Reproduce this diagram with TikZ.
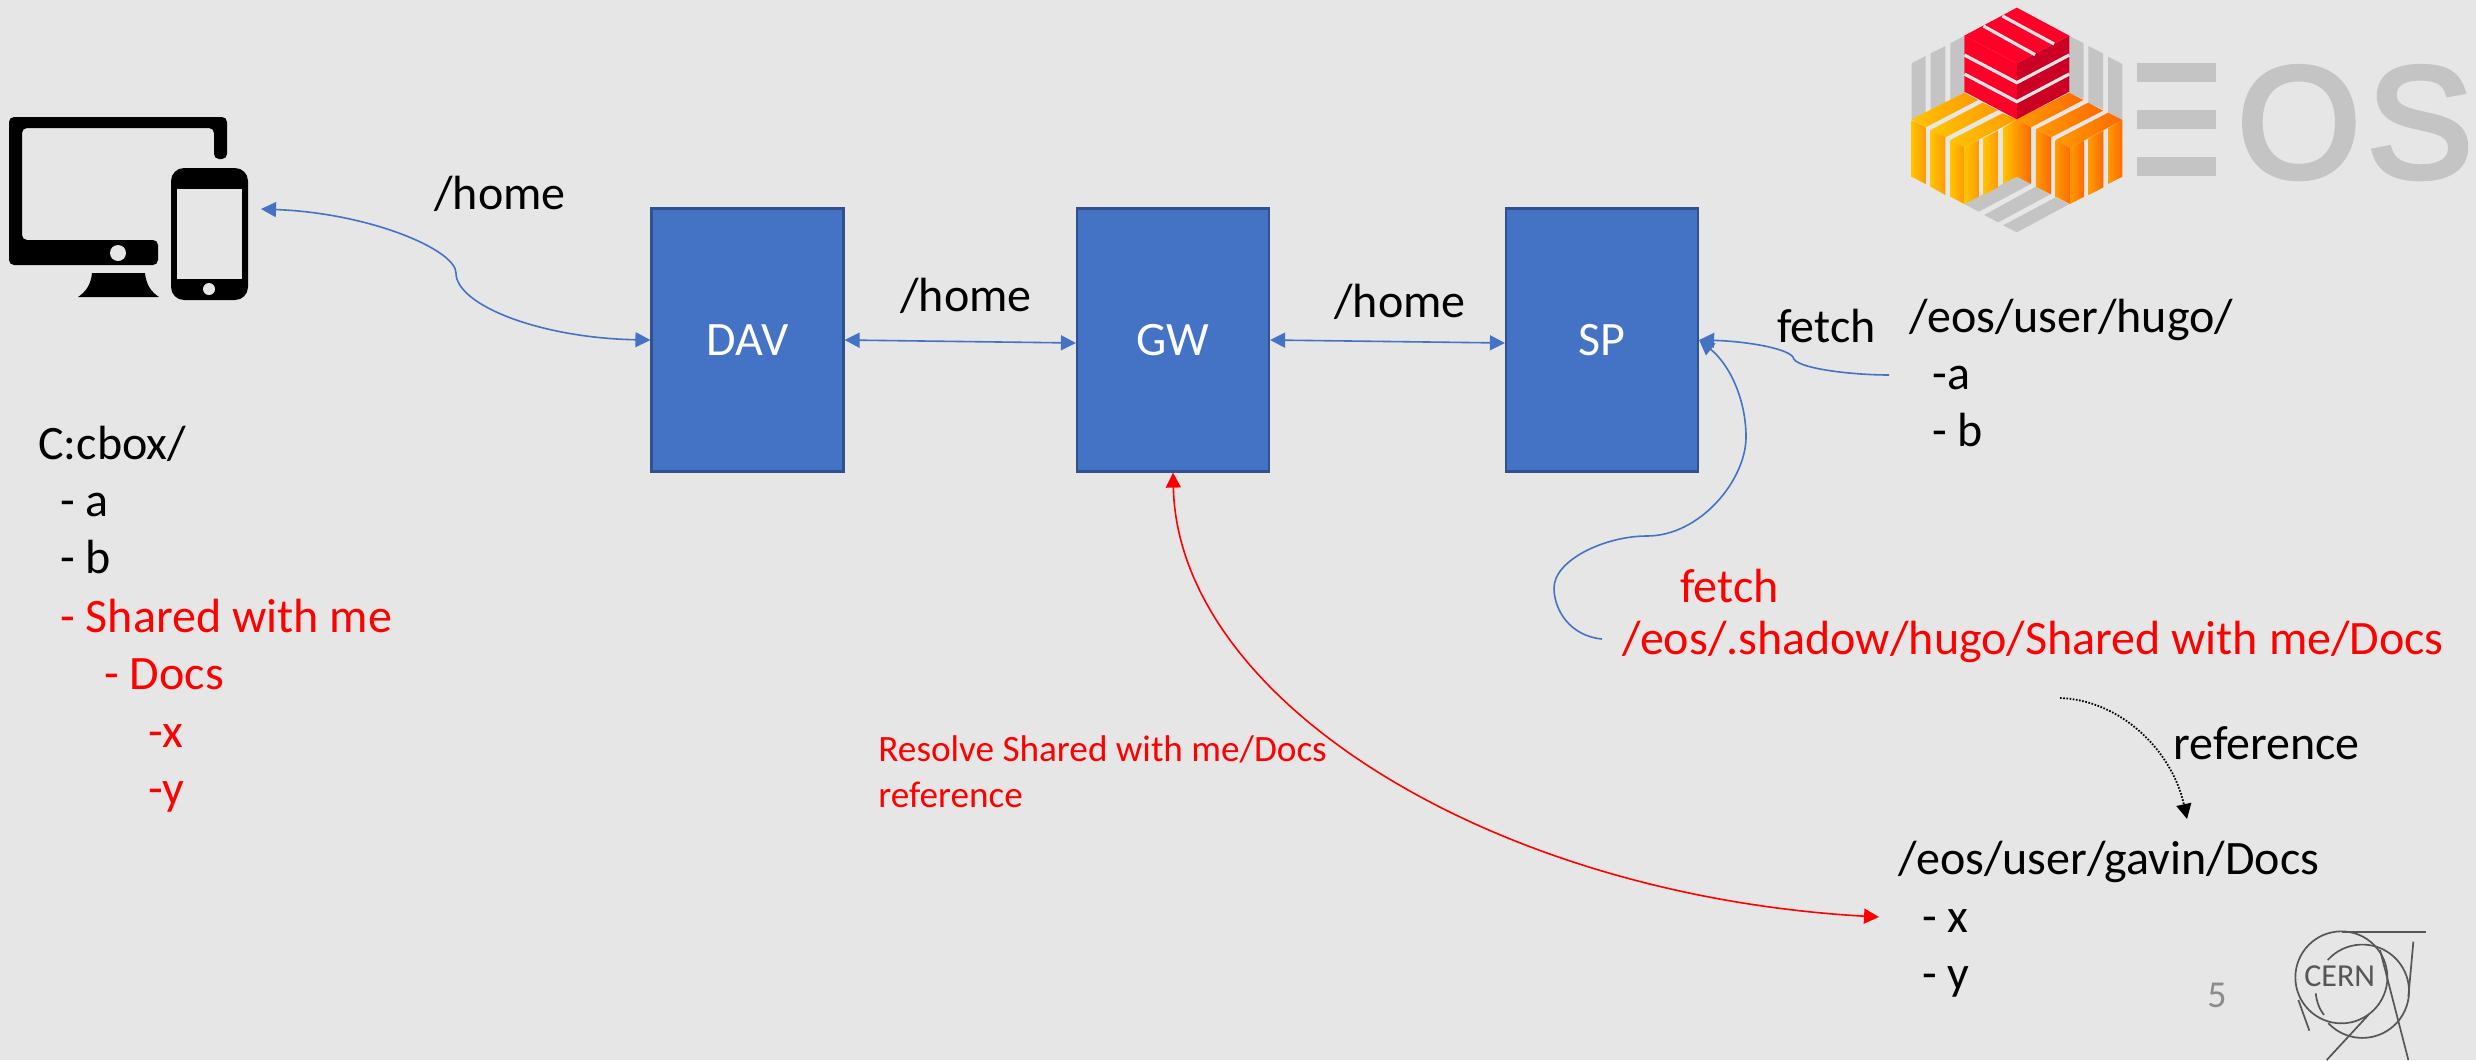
\documentclass[tikz,border=0pt]{standalone}
\usepackage{fontspec}
\setmainfont{Carlito}
\newfontfamily\logofont{Liberation Sans}[FakeBold=3.5]
\usetikzlibrary{arrows.meta}
\definecolor{bgcol}{HTML}{E6E6E6}
\definecolor{boxfill}{HTML}{4472C4}
\definecolor{boxline}{HTML}{2F528F}
\definecolor{logogrey}{HTML}{C4C4C4}
\definecolor{cerngrey}{HTML}{565656}
\definecolor{numgrey}{HTML}{8B8B8B}
\definecolor{redA}{HTML}{FF0029}
\definecolor{redB}{HTML}{CC0025}
\definecolor{yelA}{HTML}{FFC400}
\definecolor{oraA}{HTML}{FF9A00}
\definecolor{oraB}{HTML}{FF6A00}
\tikzset{
  mainfont/.style={font=\fontsize{24}{29}\selectfont},
  txt/.style={mainfont,anchor=base west,inner sep=0pt,text=black},
  redtxt/.style={txt,text=red},
  smallred/.style={font=\fontsize{18.6}{22}\selectfont,anchor=base west,inner sep=0pt,text=red},
  boxnode/.style={mainfont,draw=boxline,fill=boxfill,line width=1.1pt,text=white,minimum width=96pt,minimum height=131.5pt,inner sep=0pt,text height=15pt,text depth=0pt},
  tipA/.style={>={Triangle[length=7.5pt,width=7.5pt]}},
  blueline/.style={draw=boxfill,line width=.8pt,tipA},
  redline/.style={draw=red,line width=.8pt,tipA},
  blackdot/.style={draw=black,line width=.9pt,dash pattern=on .8pt off .8pt,tipA},
  ypoly/.style={left color=yelA,right color=oraA},
  opoly/.style={left color=oraA,right color=oraB},
  cernline/.style={draw=cerngrey,line width=.85pt},
  stripe/.style={draw=bgcol,line width=1.6pt}
}
\begin{document}
\begin{tikzpicture}[x=.5pt,y=-.5pt]
\useasboundingbox (0,0) rectangle (2476,1060);
\fill[bgcol] (0,0) rectangle (2476,1060);

% client icon
\fill[even odd rule,rounded corners=2.5pt] (9,117) -- (227,117) -- (227,159) -- (214,159) -- (214,128) -- (22,128) -- (22,240) -- (158,240) -- (158,265) -- (9,265) -- cycle;
\fill[bgcol] (118,253) circle (8);
\fill (92,273) -- (145,273) .. controls (146,284) and (151,292) .. (159,297) -- (78,297) .. controls (86,292) and (91,284) .. (92,273) -- cycle;
\fill[rounded corners=6.5pt] (171,168) rectangle (248,300);
\fill[bgcol] (177,189) rectangle (242,279);
\fill[bgcol] (209,289) circle (6);

% boxes
\node[boxnode] (dav) at (747.5,340) {DAV};
\node[boxnode] (gw) at (1173,340) {GW};
\node[boxnode] (sp) at (1602,340) {SP};

% free ends
\coordinate (client) at (261,209);
\coordinate (hugoend) at (1889,375);
\coordinate (shadowend) at (1602,639);
\coordinate (gavinred) at (1879,917);
\coordinate (refstart) at (2060,698);
\coordinate (refend) at (2187,819);

% connectors
\draw[blueline,<->] (client) .. controls (370,213) and (456,250) .. (456,273) .. controls (456,305) and (540,338) .. (dav.west);
\draw[blueline,<->] (dav.east) -- ([yshift=-1.5pt]gw.west);
\draw[blueline,<->] (gw.east) -- ([yshift=-1.5pt]sp.west);
\draw[blueline,->] (hugoend) .. controls (1850,375) and (1793,368) .. (1793,357) .. controls (1785,347) and (1740,341) .. (sp.east);
\draw[blueline,->] (shadowend) .. controls (1570,636) and (1554,610) .. (1554,588) .. controls (1554,560) and (1605,536) .. (1647,536) .. controls (1700,536) and (1746,480) .. (1746,437) .. controls (1746,400) and (1730,365) .. (sp.east);
\draw[redline,<->] (gw.south) .. controls (1178,700) and (1490,895) .. (gavinred);
\draw[blackdot,->] (refstart) .. controls (2120,700) and (2172,750) .. (refend);

% labels
\node[txt] (h1) at (434,209) {/home};
\node[txt] (h2) at (900,311) {/home};
\node[txt] (h3) at (1334,317) {/home};
\node[txt] (f1) at (1777,342) {fetch};
\node[txt] (hugo) at (1909,332) {/eos/user/hugo/};
\node[txt] (hugoa) at (1932,389) {-a};
\node[txt] (hugob) at (1932,446) {- b};
\node[redtxt] (f2) at (1680,602) {fetch};
\node[redtxt] (shadow) at (1622,654) {/eos/.shadow/hugo/Shared with me/Docs};
\node[txt] (refl) at (2173,759) {reference};
\node[txt] (gavin) at (1898,874) {/eos/user/gavin/Docs};
\node[txt] (gavx) at (1922,932) {- x};
\node[txt] (gavy) at (1922,989) {- y};
\node[txt] (c0) at (38,459) {C:cbox/};
\node[txt] (c1) at (60,516) {- a};
\node[txt] (c2) at (60,573) {- b};
\node[redtxt] (c3) at (60,632) {- Shared with me};
\node[redtxt] (c4) at (104,689) {- Docs};
\node[redtxt] (c5) at (148,747) {-x};
\node[redtxt] (c6) at (148,804) {-y};
\node[smallred] (res1) at (878,761) {Resolve Shared with me/Docs};
\node[smallred] (res2) at (878,807) {reference};
\node[font=\fontsize{19}{23}\selectfont,anchor=base west,inner sep=0pt,text=numgrey] (num) at (2207,1007) {5};

% EOS logo
\begin{scope}[shift={(1880,0)},x=.19pt,y=-.16667pt]
\fill[logogrey] (83,190)--(120,168)--(120,340)--(83,360)--cycle;
\fill[logogrey] (133,160)--(172,138)--(172,310)--(133,333)--cycle;
\fill[logogrey] (185,130)--(222,108)--(222,278)--(185,300)--cycle;
\fill[logogrey] (498,108)--(536,130)--(536,298)--(498,278)--cycle;
\fill[logogrey] (548,138)--(587,160)--(587,328)--(548,308)--cycle;
\fill[logogrey] (600,170)--(638,192)--(638,360)--(600,338)--cycle;
\fill[logogrey] (222,612)--(360,530)--(397,552)--(260,635)--cycle;
\fill[logogrey] (274,645)--(410,560)--(448,583)--(311,667)--cycle;
\fill[logogrey] (324,676)--(462,592)--(498,612)--(360,697)--cycle;
\shade[ypoly] (83,358)--(222,278)--(258,300)--(120,382)--cycle;
\shade[ypoly] (133,390)--(270,308)--(310,330)--(172,412)--cycle;
\shade[ypoly] (185,420)--(322,340)--(360,358)--(222,442)--cycle;
\shade[ypoly] (83,360)--(120,382)--(120,552)--(83,530)--cycle;
\shade[ypoly] (133,390)--(172,412)--(172,585)--(133,560)--cycle;
\shade[ypoly] (185,420)--(222,442)--(222,612)--(185,590)--cycle;
\shade[ypoly] (222,442)--(260,420)--(260,590)--(222,612)--cycle;
\shade[ypoly] (272,415)--(310,392)--(310,562)--(272,585)--cycle;
\shade[left color=yelA,right color=oraB] (323,385)--(360,358)--(397,380)--(397,552)--(360,530)--(323,552)--cycle;
\shade[opoly] (360,358)--(498,278)--(535,300)--(397,382)--cycle;
\shade[opoly] (410,388)--(548,308)--(587,332)--(450,412)--cycle;
\shade[opoly] (462,420)--(600,338)--(638,360)--(500,444)--cycle;
\shade[opoly] (410,388)--(450,412)--(450,583)--(410,560)--cycle;
\shade[opoly] (462,420)--(500,444)--(500,612)--(462,590)--cycle;
\shade[opoly] (500,444)--(537,422)--(537,590)--(500,612)--cycle;
\shade[opoly] (549,415)--(588,392)--(588,562)--(549,585)--cycle;
\shade[opoly] (600,385)--(638,360)--(638,530)--(600,552)--cycle;
\fill[redA] (222,107)--(360,190)--(360,358)--(222,275)--cycle;
\fill[redB] (360,190)--(498,107)--(498,275)--(360,358)--cycle;
\fill[redA] (360,23)--(498,107)--(360,190)--(222,107)--cycle;
\draw[stripe] (322,48)--(458,132);
\draw[stripe] (272,78)--(408,164);
\draw[stripe] (222,165)--(360,248)--(498,165);
\draw[stripe] (222,222)--(360,305)--(498,222);
\fill[logogrey] (677,190) rectangle (883,247);
\fill[logogrey] (677,331) rectangle (883,388);
\fill[logogrey] (677,472) rectangle (883,529);
\end{scope}
\node[font=\logofont\fontsize{79}{90}\selectfont,anchor=base west,inner sep=0pt,text=logogrey] (logo) at (2237,177) {O\kern3.5pt S};

% CERN logo
\begin{scope}[shift={(2150,900)},x=.16667pt,y=-.16667pt]
\draw[cernline] (574,232) circle (138);
\draw[cernline] (575,95) -- (827,95);
\draw[cernline] (533,180) arc[start angle=222,end angle=497,radius=140];
\draw[cernline] (497,280) .. controls (500,305) and (508,328) .. (522,345);
\draw[cernline] (445,300) -- (478,392);
\draw[cernline] (690,150) -- (775,480);
\draw[cernline] (790,125) -- (775,290);
\draw[cernline] (655,345) -- (530,480);
\end{scope}
\node[font=\fontsize{16}{19}\selectfont,anchor=base west,inner sep=0pt,text=cerngrey] (cern) at (2304,986) {CERN};
\end{tikzpicture}
\end{document}
